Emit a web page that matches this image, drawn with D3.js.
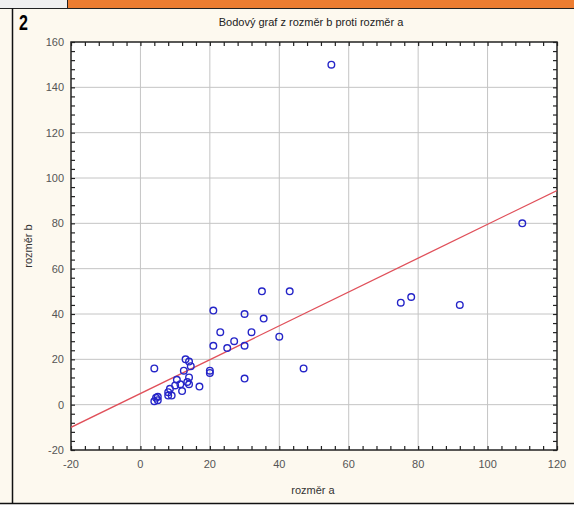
<!DOCTYPE html>
<html>
<head>
<meta charset="utf-8">
<script src="https://cdn.jsdelivr.net/npm/d3@7/dist/d3.min.js"></script>
<style>
  body { margin: 0; background: #fdf9ef; }
  svg { display: block; }
  .tick-label { font-family: "Liberation Sans Narrow", "Arial Narrow", "Liberation Sans", sans-serif; font-size: 11px; fill: #555; }
</style>
</head>
<body>
<svg id="chart" width="574" height="509"></svg>
<script>
// values
var rozmerA = [4, 4, 4.5, 5, 5, 8, 8, 8.5, 9, 10, 10.5, 11.5, 12, 12.5, 13, 13.5, 14, 14, 14.5, 14,
  17, 20, 20, 21, 21, 23, 25, 27, 30, 30, 30, 32, 35, 35.5, 40, 43, 47, 55, 75, 78, 92, 110];
var rozmerB = [16, 1.5, 3, 3.5, 2, 4, 5.5, 7, 4, 8.5, 11, 9, 6, 15, 20, 10, 12, 9, 17, 19,
  8, 14, 15, 41.5, 26, 32, 25, 28, 40, 26, 11.5, 32, 50, 38, 30, 50, 16, 150, 45, 47.5, 44, 80];
var fitX = [-20, 120];
var fitY = [-10, 94.5];
var xTicks = [-20, 0, 20, 40, 60, 80, 100, 120];
var yTicks = [-20, 0, 20, 40, 60, 80, 100, 120, 140, 160];

var svg = d3.select("#chart");
var font = '"Liberation Sans Narrow", "Arial Narrow", "Liberation Sans", sans-serif';

// spreadsheet frame around the chart
svg.append("rect").attr("x", 0).attr("y", 0).attr("width", 574).attr("height", 509).attr("fill", "#fdf9ef");
svg.append("rect").attr("x", 0).attr("y", 0).attr("width", 67).attr("height", 8).attr("fill", "#f0f0f0");
svg.append("rect").attr("x", 68).attr("y", 0).attr("width", 506).attr("height", 8).attr("fill", "#ed7d31");
svg.append("line").attr("x1", 0).attr("x2", 574).attr("y1", 8.5).attr("y2", 8.5).attr("stroke", "#222");
svg.append("line").attr("x1", 67.5).attr("x2", 67.5).attr("y1", 0).attr("y2", 8).attr("stroke", "#222");
svg.append("line").attr("x1", 12.5).attr("x2", 12.5).attr("y1", 8).attr("y2", 503).attr("stroke", "#111").attr("stroke-width", 1.5);
svg.append("rect").attr("x", 0).attr("y", 503).attr("width", 574).attr("height", 6).attr("fill", "#fff");
svg.append("line").attr("x1", 0).attr("x2", 574).attr("y1", 503.5).attr("y2", 503.5).attr("stroke", "#111").attr("stroke-width", 1.5);

// cell label, bold and condensed
svg.append("text").attr("transform", "translate(19,30) scale(0.8,1.1)")
  .style("font-family", font).style("font-size", "20px").style("font-weight", "bold")
  .text("2");

var pLeft = 71, pRight = 557, pTop = 42, pBottom = 450;
var x = d3.scaleLinear().domain([-20, 120]).range([pLeft, pRight]);
var y = d3.scaleLinear().domain([-20, 160]).range([pBottom, pTop]);

// title
svg.append("text").attr("x", 311).attr("y", 26).attr("text-anchor", "middle")
  .style("font-family", font).style("font-size", "11px").style("fill", "#222")
  .text("Bodový graf z rozměr b proti rozměr a");

// plot area
svg.append("rect").attr("x", pLeft).attr("y", pTop).attr("width", pRight - pLeft).attr("height", pBottom - pTop)
  .attr("fill", "#fff");

var g = svg.append("g");
// grid
g.selectAll(".vgrid").data(xTicks.slice(1, -1)).enter().append("line")
  .attr("x1", d => x(d)).attr("x2", d => x(d)).attr("y1", pTop).attr("y2", pBottom)
  .attr("stroke", "#c4c4c4");
g.selectAll(".hgrid").data(yTicks.slice(1, -1)).enter().append("line")
  .attr("x1", pLeft).attr("x2", pRight).attr("y1", d => y(d)).attr("y2", d => y(d))
  .attr("stroke", "#c4c4c4");

// axes with inward ticks
var xMinor = d3.range(-20, 121, 4);
var yMinor = d3.range(-20, 161, 4);
g.append("g").attr("transform", `translate(0,${pBottom})`)
  .call(d3.axisBottom(x).tickValues(xMinor).tickSize(-4).tickFormat(""))
  .call(a => a.select(".domain").remove());
g.append("g").attr("transform", `translate(0,${pTop})`)
  .call(d3.axisTop(x).tickValues(xMinor).tickSize(-4).tickFormat(""))
  .call(a => a.select(".domain").remove());
g.append("g").attr("transform", `translate(${pLeft},0)`)
  .call(d3.axisLeft(y).tickValues(yMinor).tickSize(-4).tickFormat(""))
  .call(a => a.select(".domain").remove());
g.append("g").attr("transform", `translate(${pRight},0)`)
  .call(d3.axisRight(y).tickValues(yMinor).tickSize(-4).tickFormat(""))
  .call(a => a.select(".domain").remove());
g.selectAll(".tick line").attr("stroke", "#222").attr("stroke-width", 1.2);

svg.append("rect").attr("x", pLeft).attr("y", pTop).attr("width", pRight - pLeft).attr("height", pBottom - pTop)
  .attr("fill", "none").attr("stroke", "#222").attr("stroke-width", 1.5);

// tick labels
svg.selectAll(".xl").data(xTicks).enter().append("text").attr("class", "tick-label")
  .attr("x", d => x(d)).attr("y", pBottom + 18).attr("text-anchor", "middle").text(d => d);
svg.selectAll(".yl").data(yTicks).enter().append("text").attr("class", "tick-label")
  .attr("x", pLeft - 7).attr("y", d => y(d) + 4).attr("text-anchor", "end").text(d => d);

// axis titles
svg.append("text").attr("class", "tick-label").attr("x", 313).attr("y", 494)
  .attr("text-anchor", "middle").style("fill", "#333").text("rozměr a");
svg.append("text").attr("class", "tick-label")
  .attr("transform", `translate(32,${y(70)}) rotate(-90)`)
  .attr("text-anchor", "middle").style("fill", "#333").text("rozměr b");

// fit line
svg.append("clipPath").attr("id", "plotclip").append("rect")
  .attr("x", pLeft).attr("y", pTop).attr("width", pRight - pLeft).attr("height", pBottom - pTop);
svg.append("line").attr("clip-path", "url(#plotclip)")
  .attr("x1", x(fitX[0])).attr("y1", y(fitY[0])).attr("x2", x(fitX[1])).attr("y2", y(fitY[1]))
  .attr("stroke", "#e0505a").attr("stroke-width", 1.3);

// points
svg.selectAll(".pt").data(rozmerA).enter().append("circle")
  .attr("cx", d => x(d)).attr("cy", (d, i) => y(rozmerB[i])).attr("r", 3.3)
  .attr("fill", "none").attr("stroke", "#2525c8").attr("stroke-width", 1.4);
</script>
</body>
</html>
